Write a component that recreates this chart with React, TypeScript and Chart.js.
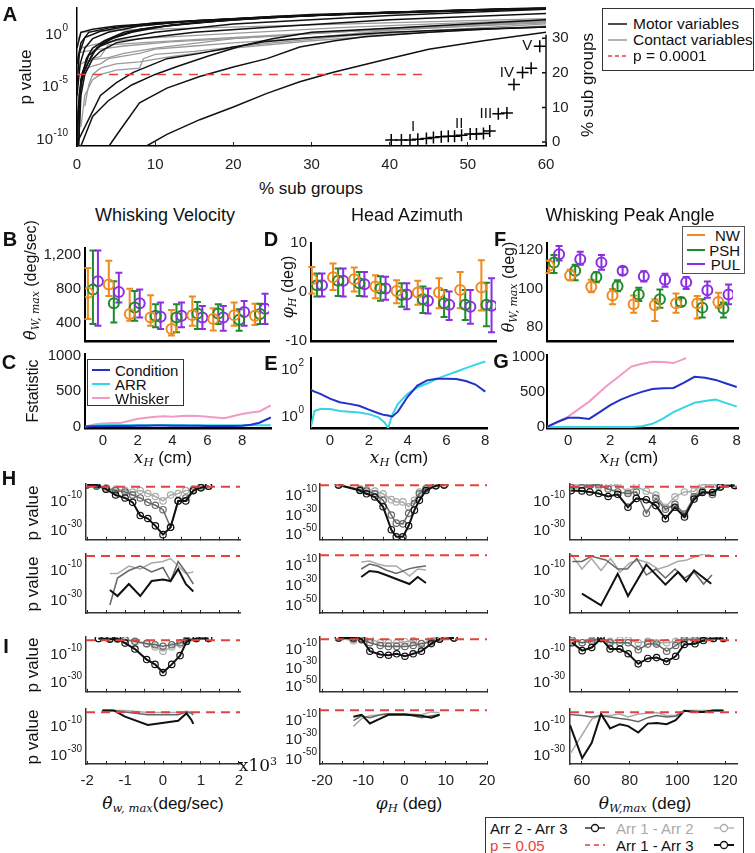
import React, { useEffect, useRef } from 'react';
import { Chart, registerables } from 'chart.js';

Chart.register(...registerables);

const SANS = "'Liberation Sans', Arial, Helvetica, sans-serif";
const SERIF = "'DejaVu Serif', 'Liberation Serif', 'Times New Roman', serif";

const C_NW = '#f0891e';
const C_PSH = '#1f8a2b';
const C_PUL = '#8c2fe3';
const C_COND = '#2231cc';
const C_ARR = '#33d6e6';
const C_WHISK = '#f29ac4';
const RED = '#e5413b';

// ---------------- Panel A ----------------
const A_MOTOR = [
  [[0, -10.8], [0.3, -6], [0.7, -4], [1.2, -2.5], [2, -1.5], [3.5, -0.8], [6, 0], [10, 0.5], [20, 1.2], [30, 1.6], [45, 2], [60, 2.3]],
  [[0, -9], [0.5, -5], [1, -3.5], [2, -2], [3, -1.2], [5, -0.4], [8, 0.3], [15, 0.9], [25, 1.4], [40, 1.9], [60, 2.3]],
  [[0.2, -10.8], [0.5, -4.5], [1.5, -2.8], [2.5, -1.5], [4, -0.7], [7, 0], [12, 0.7], [20, 1.2], [35, 1.8], [60, 2.35]],
  [[0, -6], [0.4, -3], [1, -1.5], [2, -0.6], [4, 0], [8, 0.6], [15, 1.1], [30, 1.7], [60, 2.35]],
  [[0, -5], [0.3, -2], [1, -0.5], [3, 0.1], [6, 0.5], [12, 0.9], [25, 1.5], [60, 2.3]],
  [[0, -3], [0.5, -1], [1.5, 0], [4, 0.4], [10, 0.9], [20, 1.3], [40, 1.9], [60, 2.3]],
  [[0, -1.5], [0.5, 0], [2, 0.3], [5, 0.6], [15, 1.1], [30, 1.6], [60, 2.3]],
  [[0, -10], [0.2, -7], [0.6, -4], [1.5, -2.2], [3, -1.3], [5, -0.7], [10, 0], [20, 0.8], [40, 1.6], [60, 2.2]],
  [[0, -10.5], [1, -9], [3, -6], [5, -4.8], [7.2, -3.8], [11.5, -2.5], [15.7, -2], [20, -1.4], [24, -0.9], [30, -0.5], [40, 0], [50, 0.3], [60, 0.5]],
  [[4.1, -10.8], [5.5, -9.3], [8, -6.7], [11.5, -5.3], [15.7, -4.2], [20, -3.3], [24.3, -2.5], [28.5, -1.4], [33, -0.8], [37, -0.4], [45, 0], [52, 0.3], [60, 0.5]],
  [[8.9, -10.8], [11.5, -9.7], [15.7, -8.3], [20, -7.1], [24.3, -5.8], [28.5, -4.7], [32.8, -3.8], [38.8, -2.7], [45, -1.6], [52, -0.8], [60, 0]],
  [[0.5, -10.8], [2, -8], [4, -6.5], [7, -5], [10, -4], [13, -3.2], [17, -2.2], [21, -1.3], [25, -0.6], [30, 0], [40, 0.4], [60, 1.2]],
  [[0.2, -10.8], [0.5, -6], [1, -4], [2, -2.5], [3, -1.8], [5, -1], [8, -0.6], [15, 0], [25, 0.5], [40, 1.2], [60, 1.8]],
];
const A_CONTACT = [
  [[0, -7], [0.5, -4.5], [1, -3.5], [2, -3.2], [3, -3], [4, -2.5], [8, -2], [10, -1.6], [15, -1.3], [20, -1], [30, -0.5], [40, 0.2], [60, 1.0]],
  [[0.5, -9], [1, -6], [2, -4.5], [3, -4], [4, -3.8], [5, -3.6], [8, -3.4], [8.5, -2.5], [10, -2.1], [15, -1.8], [25, -1], [35, -0.3], [60, 0.8]],
  [[0.3, -6], [1, -4], [2, -2.5], [3, -2.3], [4, -1.2], [8, -1], [15, -0.7], [25, -0.3], [40, 0.3], [60, 1.1]],
  [[0, -3], [0.5, -1.5], [2, -1.2], [5, -0.8], [10, -0.5], [20, -0.1], [35, 0.5], [60, 1.2]],
  [[0, -1], [0.5, 0], [2, 0.1], [5, 0.2], [15, 0.4], [30, 0.7], [60, 1.3]],
  [[0, -2], [1, -1.8], [3, -1.6], [6, -1.3], [12, -0.9], [22, -0.5], [35, 0.1], [60, 0.9]],
  [[1, -7], [1.5, -5], [2, -4], [3, -3.4], [5, -3], [8, -2.8], [12, -2.3], [20, -1.5], [30, -0.8], [45, 0], [60, 0.6]],
  [[0, -4], [0.5, -3], [1, -2.8], [2, -2.6], [4, -2.4], [6, -2], [10, -1.5], [20, -0.6], [40, 0.4], [60, 1.0]],
];
const A_THRESH_P = 0.0001;
const A_THRESH_X = [0, 45];
const A_CROSS_X = [40.2, 41.5, 42.6, 43.6, 44.7, 45.6, 46.6, 47.5, 48.3, 49.2, 50.3, 51.1, 52.0, 52.8, 53.9, 55.0, 55.9, 57.0, 58.1, 59.2];
const A_CROSS_Y = [0.6, 0.6, 0.6, 0.8, 1.0, 1.3, 1.5, 1.7, 1.7, 2.0, 2.3, 2.3, 2.5, 3.2, 8.2, 8.4, 16.6, 20.1, 21.3, 27.7];
const A_ROMAN_TXT = ['I', 'II', 'III', 'IV', 'V'];
const A_ROMAN_X = [43.0, 48.9, 52.3, 55.0, 57.6];
const A_ROMAN_Y = [4.3, 5.3, 8.2, 20.1, 27.7];
const A_RIGHT_AXIS_TOP = 31;

// ---------------- Panels B, D, F ----------------
const GROUPS = [0, 1, 2, 3, 4, 5, 6, 7, 8];
const OFF_NW = -0.24, OFF_PSH = 0, OFF_PUL = 0.24;

const B_NW_MEAN = [752, 849, 498, 459, 322, 486, 439, 486, 480];
const B_NW_LO = [439, 712, 420, 361, 244, 361, 303, 361, 370];
const B_NW_HI = [1044, 1130, 799, 720, 548, 705, 568, 635, 620];
const B_PSH_MEAN = [790, 626, 576, 478, 459, 505, 505, 431, 500];
const B_PSH_LO = [380, 400, 419, 342, 283, 322, 380, 302, 380];
const B_PSH_HI = [1250, 888, 770, 614, 614, 641, 614, 556, 620];
const B_PUL_MEAN = [888, 759, 626, 466, 478, 459, 459, 524, 560];
const B_PUL_LO = [360, 634, 459, 322, 342, 322, 302, 360, 380];
const B_PUL_HI = [1250, 986, 790, 634, 634, 595, 595, 653, 740];

const D_NW_MEAN = [2.6, 3.0, 2.6, 1.1, 0.2, -0.1, -0.1, 0.4, 0.9];
const D_NW_LO = [-0.3, 0.4, 0.1, -1.3, -2.3, -2.6, -3.3, -3.3, -3.8];
const D_NW_HI = [5.1, 5.8, 5.0, 3.4, 2.4, 2.3, 2.8, 4.1, 6.5];
const D_PSH_MEAN = [1.4, 2.3, 1.8, 0.7, -0.6, -1.5, -2.3, -2.6, -2.6];
const D_PSH_LO = [-0.9, -0.8, -0.8, -1.8, -3.0, -4.3, -5.1, -5.7, -7.0];
const D_PSH_HI = [3.8, 4.8, 4.1, 3.2, 1.8, 1.1, 0.4, 0.4, 1.9];
const D_PUL_MEAN = [1.4, 2.3, 1.6, 0.7, -0.5, -1.8, -2.6, -3.0, -2.8];
const D_PUL_LO = [-0.9, -0.9, -0.9, -1.6, -3.5, -4.4, -5.7, -6.5, -8.2];
const D_PUL_HI = [3.8, 4.8, 4.1, 3.1, 1.8, 0.7, 0.1, 0.4, 2.8];

const F_NW_MEAN = [111.8, 106.7, 100.9, 96.4, 91.8, 91.3, 92.3, 92.3, 93.0];
const F_NW_LO = [108.1, 104.3, 98.1, 91.8, 87.5, 83.2, 87.5, 84.5, 90.1];
const F_NW_HI = [114.5, 109.7, 104.6, 99.8, 96.4, 94.4, 97.4, 96.1, 97.8];
const F_PSH_MEAN = [113.5, 109.2, 106.0, 101.2, 96.9, 94.4, 93.0, 90.1, 89.6];
const F_PSH_LO = [108.1, 104.3, 103.2, 98.6, 93.5, 90.1, 90.9, 85.0, 85.0];
const F_PSH_HI = [117.4, 112.3, 108.4, 104.3, 100.4, 99.5, 95.2, 94.4, 92.7];
const F_PUL_MEAN = [117.8, 115.2, 113.5, 109.2, 106.3, 104.6, 103.2, 99.1, 96.9];
const F_PUL_LO = [114.5, 112.3, 109.7, 107.2, 103.7, 100.9, 99.8, 95.2, 91.8];
const F_PUL_HI = [122.1, 119.1, 117.4, 111.1, 108.9, 107.7, 106.0, 103.7, 102.1];

// ---------------- Panels C, E, G ----------------
const C_X = [-1, -0.5, 0, 0.5, 1, 1.5, 2, 2.5, 3, 3.5, 4, 4.5, 5, 5.5, 6, 6.5, 7, 7.5, 8, 8.5, 9, 9.65];
const C_CONDITION = [0, 4, 6, 8, 9, 10, 12, 13, 14, 14, 13, 13, 12, 11, 10, 9, 8, 8, 12, 25, 55, 130];
const C_ARRV = [0, 15, 22, 24, 24, 24, 23, 22, 22, 22, 22, 21, 20, 20, 19, 19, 18, 18, 18, 18, 18, 20];
const C_WHISKER = [0, 30, 45, 50, 50, 80, 110, 125, 140, 145, 140, 150, 155, 150, 140, 130, 120, 150, 180, 200, 215, 300];

const E_X = [-1, -0.8, -0.5, 0, 0.5, 1, 1.5, 2, 2.5, 2.8, 3, 3.2, 3.5, 4, 4.5, 5, 5.5, 6, 6.5, 7, 7.5, 8];
const E_CONDITION = [12, 10, 8, 5, 3.5, 3, 2.5, 1.7, 1.2, 1.0, 0.95, 0.85, 1.4, 6, 18, 30, 35, 35, 34, 28, 20, 10];
const E_ARRV = [0.28, 1.5, 1.8, 1.8, 1.5, 1.4, 1.3, 1.1, 0.8, 0.5, 0.28, 1.0, 3, 8, 15, 22, 35, 50, 70, 100, 140, 190];

const G_X = [-1, -0.5, 0, 0.5, 1, 1.5, 2, 2.5, 3, 3.5, 4, 4.5, 5, 5.5, 6, 6.5, 7, 7.5, 8];
const G_CONDITION = [0, 70, 130, 130, 115, 210, 310, 390, 450, 500, 540, 550, 555, 630, 715, 700, 670, 620, 570];
const G_ARRV = [0, 0, 0, 0, 0, 0, 0, 0, 0, 10, 45, 120, 210, 280, 345, 370, 390, 340, 290];
const G_WHISKER_X = [-1, 0, 1, 1.8, 2.5, 3, 3.5, 4, 4.5, 5, 5.6];
const G_WHISKER = [0, 147, 361, 575, 740, 860, 900, 930, 925, 910, 980];

// ---------------- Panels H, I (log10 p values) ----------------
const P_THRESH = 0.05;

const H1_VEL_X = [-2.0, -1.75, -1.5, -1.25, -1.0, -0.8, -0.6, -0.4, -0.2, 0.0, 0.2, 0.4, 0.6, 0.8, 1.0, 1.2];
const H1_VEL_A13 = [0, 0, -3, -7, -9, -12, -21, -23, -28, -34, -29, -11, -11, -4, -2, -1];
const H1_VEL_A23 = [0, -1, -3, -4, -5, -7, -9, -12, -14, -17, -29, -11, -9, -4, -2, -1];
const H1_VEL_A12 = [0, -1, -2, -3, -4, -5, -4, -6, -8, -11, -7, -6, -4, -3, -1, -1];

const H2_VEL_X = [-1.4, -1.2, -0.9, -0.6, -0.3, 0.0, 0.2, 0.4, 0.6, 0.8];
const H2_VEL_A13 = [-24, -28, -20, -28, -18, -17, -18, -10, -20, -25];
const H2_VEL_A23 = [-34, -16, -11, -8, -12, -9, -18, -5, -12, -20];
const H2_VEL_A12 = [-13, -13, -8, -10, -6, -5, -3, -8, -13, -12];

const I1_VEL_X = [-1.7, -1.4, -1.2, -1.0, -0.74, -0.43, -0.21, 0.0, 0.23, 0.45, 0.62, 0.88, 1.2];
const I1_VEL_A13 = [0, -0.5, 0, -3.3, -7.5, -14.9, -18.3, -24, -18.3, -12.1, -2.2, 0, 0];
const I1_VEL_A23 = [0, 0, -0.5, -1, -2, -3.5, -4.5, -5.5, -4.5, -3, -1, 0, 0];
const I1_VEL_A12 = [0, 0, 0, -0.5, -2.5, -4, -6, -9, -6, -4, -1.5, 0, 0];

const I2_VEL_X = [-1.6, -1.3, -1.0, -0.4, 0.4, 0.62, 0.75, 0.8];
const I2_VEL_A13 = [0, 0, -4.3, -10, -7.1, -2, -6.6, -9.3];
const I2_VEL_A23 = [0, 0, -1, -3, -3, -1, -2, -3];
const I2_VEL_A12 = [0, 0, 0, -1.5, -1.5, -0.5, -1, -2];

const H1_AZ_X = [-16, -10.8, -9.2, -7.2, -5.2, -3.2, -2.0, -0.4, 1.0, 2.4, 3.6, 5.2, 7.6, 9.6];
const H1_AZ_A13 = [-1, -6.7, -10, -13.3, -23.3, -46.7, -54, -54, -42.7, -26.7, -16.7, -6.7, -1.7, -1];
const H1_AZ_A23 = [-1, -6, -7.3, -10, -16.7, -31.7, -40, -40.7, -30, -20, -10, -5, -1.7, -1];
const H1_AZ_A12 = [-1, -5, -6, -7.3, -10, -16, -18.3, -18.3, -23.3, -16.7, -8.3, -4.3, -1, -1];

const H2_AZ_X = [-10.5, -8.5, -6.5, -4.5, -2, 1.2, 3.2, 5.2];
const H2_AZ_A13 = [-23, -17, -18, -21, -25, -30, -23, -29];
const H2_AZ_A23 = [-15, -10, -12, -16, -19.5, -14.6, -13, -12];
const H2_AZ_A12 = [-8, -7, -10, -12, -12, -22, -15, -16];

const I1_AZ_X = [-16, -12.4, -10.4, -8.4, -5.9, -3.9, -1.9, 0.1, 2.1, 4.1, 6.5, 8.5, 12];
const I1_AZ_A13 = [0, 0, -1, -14, -17.5, -18.3, -16.8, -19.4, -16.8, -14, -6, -1.4, 0];
const I1_AZ_A23 = [0, -1, -2, -5, -8, -9, -9, -9, -8, -6, -4, -1, 0];
const I1_AZ_A12 = [0, -3, 0, -1, -5, -5, -5, -4, -3, -8.6, 0, 0, 0];

const I2_AZ_X = [-12.4, -10.4, -8.4, -5.9, -3.9, 0.1, 4.1, 6.5, 8.5];
const I2_AZ_A13 = [-8, -6, -15, -10, -6, -6, -7, -9, -6];
const I2_AZ_A23 = [-12, -7, -9, -6, -5, -5, -9, -7, -6];
const I2_AZ_A12 = [-18, -10, -7, -6, -5, -5, -6, -3, -4];

const H1_ANG_X = [55.5, 60, 63.3, 67, 71, 75, 79.3, 82.8, 87, 91, 95, 99, 103, 107, 110.5, 114.7, 118, 124];
const H1_ANG_A13 = [-4, -4.2, -4.9, -6, -8, -6.5, -15.3, -9.3, -10.2, -14.2, -23.1, -15.3, -22, -9.8, -5.3, -5.3, -1.5, -0.5];
const H1_ANG_A23 = [-2, -2, -0.5, 0, -2.9, -4.9, -6, -4.9, -19.4, -9.3, -16.7, -13.3, -20, -8.2, -4.4, -6.7, -1.5, -0.5];
const H1_ANG_A12 = [0, -0.5, 0, -1.2, -1.2, 0, -4.9, -1.2, -4.4, -7.1, -15.3, -8.2, -4.9, -4.4, 0, 0, 0, 0];

const H2_ANG_X13 = [60, 68, 75, 79.3, 87, 95, 100.3, 103.7, 107, 114.2];
const H2_ANG_A13 = [-26.4, -34.2, -13.1, -28, -7.1, -20.4, -12, -18.2, -10.9, -19.8];
const H2_ANG_X23 = [56, 60, 64, 70, 75, 79, 83, 87, 91, 95, 99, 103, 107, 111, 114.5];
const H2_ANG_A23 = [-5, -5, -1.5, -4, -10, -10, -3, -14, -10, -16, -10, -16, -12, -20, -14];
const H2_ANG_X12 = [55.5, 60, 64, 68, 72, 76, 80, 84, 88, 92, 96, 100, 104, 107, 111, 114];
const H2_ANG_A12 = [0, -10, -3, -11, -3, -12, -6, -4, -6, -10, -8, -5, -4, -2, 0, 0];

const I1_ANG_X = [55.9, 60.1, 64.1, 68, 71.8, 75.9, 79.4, 83.6, 87.6, 91.3, 95.5, 99.3, 102.9, 107.4, 110.9, 115.1, 119.3];
const I1_ANG_A13 = [-3.1, -8.6, -6.4, 0, -7.5, -7.5, -10.8, -17.9, -14.1, -13.5, -16.3, -12.6, -4.2, -3.8, -1.5, 0, 0];
const I1_ANG_A23 = [-1, -3, -2, 0, -3, -3, -3, -8, -4, -4, -9, -5, -1, -1, 0, 0, 0];
const I1_ANG_A12 = [-2, -3, -1, 0, -2, -1, -1, -3, -2, -3, -3, -2, 0, 0, 0, 0, 0];

const I2_ANG_X = [55, 60.1, 64.1, 68, 71.8, 75.9, 79.4, 83.6, 87.6, 91.3, 95.5, 99.3, 102.9, 107.4, 110.9, 115.1, 119.3];
const I2_ANG_A13 = [-10.2, -33, -22.4, -2.4, -12.4, -9.5, -10.8, -15.3, -9.1, -8.6, -9.5, -6.8, -0.2, -1, -1, 0, 0];
const I2_ANG_A23 = [-2.8, -3.5, -4.5, -3.5, -4.5, -5.6, -6.3, -7.8, -5, -3.5, -4.5, -4, -0.6, -0.5, -1, 0, 0];
const I2_ANG_A12 = [-30.2, -16.8, -6, -3.5, -3.5, -2.4, -4.5, -2.4, -2, -1.5, -3.5, -3.5, 0, 0, 0, 0, 0];

// ---------------- layout ----------------
type Rect = { l: number; t: number; r: number; b: number };
type Pad = { L: number; T: number; R: number; B: number };

const COLS = [
  { l: 86, r: 240, min: -2.03, max: 2.03, ticks: [-2, -1.5, -1, -0.5, 0, 0.5, 1, 1.5, 2], every: 1, L: 52, ypad: 4, pTicks: [1e-10, 1e-30] },
  { l: 320, r: 487, min: -20.5, max: 20, ticks: [-20, -15, -10, -5, 0, 5, 10, 15, 20], every: 10, L: 48, ypad: 3, pTicks: [1e-10, 1e-30, 1e-50] },
  { l: 570, r: 737, min: 55, max: 125, ticks: [60, 80, 100, 120], every: 20, L: 48, ypad: 5, pTicks: [1e-10, 1e-30] },
];
const ROWS = [
  { t: 484, b: 541, rng: [[-37.5, 0.5], [-57, 0], [-37.5, 0.5]] },
  { t: 554, b: 613, rng: [[-39.3, 0], [-59, 0], [-39.3, 0]] },
  { t: 637, b: 693, rng: [[-37.6, 1], [-57, 1], [-37.6, 1]] },
  { t: 709, b: 764, rng: [[-37, 1], [-57, 0], [-37, 1]] },
];

const SUBPLOTS = [
  { row: 0, col: 0, marks: true, s13: [H1_VEL_X, H1_VEL_A13], s23: [H1_VEL_X, H1_VEL_A23], s12: [H1_VEL_X, H1_VEL_A12] },
  { row: 1, col: 0, marks: false, s13: [H2_VEL_X, H2_VEL_A13], s23: [H2_VEL_X, H2_VEL_A23], s12: [H2_VEL_X, H2_VEL_A12] },
  { row: 2, col: 0, marks: true, s13: [I1_VEL_X, I1_VEL_A13], s23: [I1_VEL_X, I1_VEL_A23], s12: [I1_VEL_X, I1_VEL_A12] },
  { row: 3, col: 0, marks: false, s13: [I2_VEL_X, I2_VEL_A13], s23: [I2_VEL_X, I2_VEL_A23], s12: [I2_VEL_X, I2_VEL_A12] },
  { row: 0, col: 1, marks: true, s13: [H1_AZ_X, H1_AZ_A13], s23: [H1_AZ_X, H1_AZ_A23], s12: [H1_AZ_X, H1_AZ_A12] },
  { row: 1, col: 1, marks: false, s13: [H2_AZ_X, H2_AZ_A13], s23: [H2_AZ_X, H2_AZ_A23], s12: [H2_AZ_X, H2_AZ_A12] },
  { row: 2, col: 1, marks: true, s13: [I1_AZ_X, I1_AZ_A13], s23: [I1_AZ_X, I1_AZ_A23], s12: [I1_AZ_X, I1_AZ_A12] },
  { row: 3, col: 1, marks: false, s13: [I2_AZ_X, I2_AZ_A13], s23: [I2_AZ_X, I2_AZ_A23], s12: [I2_AZ_X, I2_AZ_A12] },
  { row: 0, col: 2, marks: true, s13: [H1_ANG_X, H1_ANG_A13], s23: [H1_ANG_X, H1_ANG_A23], s12: [H1_ANG_X, H1_ANG_A12] },
  { row: 1, col: 2, marks: false, s13: [H2_ANG_X13, H2_ANG_A13], s23: [H2_ANG_X23, H2_ANG_A23], s12: [H2_ANG_X12, H2_ANG_A12] },
  { row: 2, col: 2, marks: true, s13: [I1_ANG_X, I1_ANG_A13], s23: [I1_ANG_X, I1_ANG_A23], s12: [I1_ANG_X, I1_ANG_A12] },
  { row: 3, col: 2, marks: false, s13: [I2_ANG_X, I2_ANG_A13], s23: [I2_ANG_X, I2_ANG_A23], s12: [I2_ANG_X, I2_ANG_A12] },
];

// ---------------- helpers ----------------
const zip = (xs: number[], ys: number[]) => xs.map((x, i) => ({ x, y: ys[i] }));
const zipExp = (xs: number[], es: number[]) => xs.map((x, i) => ({ x, y: Math.pow(10, es[i]) }));

function canvasRect(p: Rect, pad: Pad) {
  return { x: p.l - pad.L, y: p.t - pad.T, w: p.r - p.l + pad.L + pad.R, h: p.b - p.t + pad.T + pad.B };
}

function axis(o: any) {
  const vertical = o.pos === 'left' || o.pos === 'right';
  const tl = o.inTicks || 0;
  const cfg: any = {
    type: o.type || 'linear',
    position: o.pos,
    min: o.min,
    max: o.max,
    afterFit: (s: any) => {
      if (vertical) { s.width = o.size; s.paddingTop = 0; s.paddingBottom = 0; }
      else { s.height = o.size; s.paddingLeft = 0; s.paddingRight = 0; }
    },
    grid: tl
      ? { display: true, drawOnChartArea: false, drawTicks: true, tickLength: -tl, color: o.tickColor || '#222', lineWidth: 1 }
      : { display: false, drawTicks: false },
    border: { display: o.border !== false, color: o.borderColor || '#000', width: o.borderWidth ?? 2 },
    ticks: {
      display: o.labels !== false,
      padding: (o.pad ?? 4) + tl,
      color: '#222',
      font: { family: SANS, size: o.fontSize || 15 },
      maxRotation: 0,
      minRotation: 0,
      autoSkip: false,
      callback: o.fmt || ((v: any) => String(v)),
    },
  };
  if (o.ticks) cfg.afterBuildTicks = (s: any) => { s.ticks = o.ticks.map((v: number) => ({ value: v })); };
  return cfg;
}

function baseOptions(pad: Pad, scales: any, rightAxisW = 0, pluginOpts: any = {}) {
  return {
    responsive: false,
    animation: false,
    devicePixelRatio: 1,
    events: [],
    layout: { padding: { left: 0, top: pad.T, right: pad.R - rightAxisW, bottom: 0 } },
    plugins: { legend: { display: false }, tooltip: { enabled: false }, title: { display: false }, ...pluginOpts },
    scales,
  };
}

const line = (pts: any[], color: string, width: number, extra: any = {}) => ({
  data: pts,
  showLine: true,
  borderColor: color,
  backgroundColor: color,
  borderWidth: width,
  pointRadius: 0,
  fill: false,
  tension: 0,
  ...extra,
});

const errSet = (off: number, mean: number[], lo: number[], hi: number[], color: string) => ({
  data: GROUPS.map((g, i) => ({ x: g + off, y: mean[i] })),
  errLo: lo,
  errHi: hi,
  showLine: false,
  pointRadius: 5,
  pointBorderWidth: 2,
  borderColor: color,
  pointBorderColor: color,
  pointBackgroundColor: 'rgba(0,0,0,0)',
  backgroundColor: 'rgba(0,0,0,0)',
});

// ---------------- plugins ----------------
const errBars = {
  id: 'errBars',
  beforeDatasetsDraw(chart: any) {
    const ctx = chart.ctx;
    const xs = chart.scales.x, ys = chart.scales.y;
    chart.data.datasets.forEach((ds: any) => {
      if (!ds.errLo) return;
      ctx.save();
      ctx.strokeStyle = ds.borderColor;
      ctx.lineWidth = 2;
      ds.data.forEach((p: any, i: number) => {
        const x = xs.getPixelForValue(p.x);
        const y1 = ys.getPixelForValue(ds.errLo[i]);
        const y2 = ys.getPixelForValue(ds.errHi[i]);
        ctx.beginPath();
        ctx.moveTo(x, y1); ctx.lineTo(x, y2);
        ctx.moveTo(x - 3.5, y1); ctx.lineTo(x + 3.5, y1);
        ctx.moveTo(x - 3.5, y2); ctx.lineTo(x + 3.5, y2);
        ctx.stroke();
      });
      ctx.restore();
    });
  },
};

const pointText = {
  id: 'pointText',
  afterDatasetsDraw(chart: any) {
    const ctx = chart.ctx;
    chart.data.datasets.forEach((ds: any, di: number) => {
      if (!ds.pointText) return;
      const meta = chart.getDatasetMeta(di);
      ctx.save();
      ctx.font = `15px ${SANS}`;
      ctx.fillStyle = '#111';
      ctx.textAlign = 'center';
      ctx.textBaseline = 'middle';
      meta.data.forEach((el: any, i: number) => ctx.fillText(ds.pointText[i], el.x, el.y));
      ctx.restore();
    });
  },
};

const partialRightAxis = {
  id: 'partialRightAxis',
  afterDatasetsDraw(chart: any) {
    const s = chart.scales.y2;
    if (!s) return;
    const ctx = chart.ctx;
    const x = chart.chartArea.right;
    ctx.save();
    ctx.strokeStyle = '#111';
    ctx.lineWidth = 1.5;
    ctx.beginPath();
    ctx.moveTo(x, chart.chartArea.bottom);
    ctx.lineTo(x, s.getPixelForValue(A_RIGHT_AXIS_TOP));
    s.ticks.forEach((t: any) => {
      const y = s.getPixelForValue(t.value);
      ctx.moveTo(x, y);
      ctx.lineTo(x - 4, y);
    });
    ctx.stroke();
    ctx.restore();
  },
};

// draws "10" with a raised exponent for the ticks of a log y axis
const powLabels = {
  id: 'powLabels',
  afterDraw(chart: any, _args: any, opts: any) {
    const s = chart.scales.y;
    if (!s || s.type !== 'logarithmic') return;
    const pad = opts && opts.pad != null ? opts.pad : 4;
    const size = opts && opts.size ? opts.size : 15;
    const small = Math.round(size * 0.68);
    const ctx = chart.ctx;
    ctx.save();
    ctx.fillStyle = '#222';
    ctx.textAlign = 'left';
    ctx.textBaseline = 'alphabetic';
    s.ticks.forEach((t: any) => {
      const y = s.getPixelForValue(t.value);
      const e = String(Math.round(Math.log10(t.value)));
      ctx.font = `${small}px ${SANS}`;
      const we = ctx.measureText(e).width;
      ctx.font = `${size}px ${SANS}`;
      const wb = ctx.measureText('10').width;
      const xr = s.right - pad;
      ctx.fillText('10', xr - we - wb - 0.5, y + size * 0.42);
      ctx.font = `${small}px ${SANS}`;
      ctx.fillText(e, xr - we, y - size * 0.12);
    });
    ctx.restore();
  },
};

// ---------------- chart configs ----------------
const A_PLOT: Rect = { l: 77, t: 6, r: 546, b: 146 };
const A_PAD: Pad = { L: 77, T: 6, R: 34, B: 30 };
function makeA(pad: Pad) {
  const datasets: any[] = [
    { data: zip(A_CROSS_X, A_CROSS_Y), yAxisID: 'y2', showLine: false, pointStyle: 'cross', pointRadius: 6, borderColor: '#000', pointBorderColor: '#000', pointBorderWidth: 1.5, borderWidth: 1.5 },
    { data: zip(A_ROMAN_X, A_ROMAN_Y), yAxisID: 'y2', showLine: false, pointRadius: 0, pointText: A_ROMAN_TXT },
    line(A_THRESH_X.map((x) => ({ x, y: A_THRESH_P })), RED, 1.5, { borderDash: [9, 7] }),
    ...A_MOTOR.map((c) => line(c.map(([x, e]) => ({ x, y: Math.pow(10, e) })), '#111', 1.5)),
    ...A_CONTACT.map((c) => line(c.map(([x, e]) => ({ x, y: Math.pow(10, e) })), '#9a9a9a', 1.3)),
  ];
  return {
    type: 'scatter',
    data: { datasets },
    options: baseOptions(pad, {
      x: axis({ pos: 'bottom', min: 0, max: 60, ticks: [0, 10, 20, 30, 40, 50, 60], size: pad.B, pad: 10, inTicks: 4, borderWidth: 1.5 }),
      y: axis({ type: 'logarithmic', pos: 'left', min: Math.pow(10, -10.8), max: Math.pow(10, 2.36), ticks: [1e-10, 1e-5, 1], size: pad.L, labels: false, borderWidth: 1.5 }),
      y2: axis({ pos: 'right', min: -1.14, max: 38.86, ticks: [0, 10, 20, 30], size: 34, pad: 6, border: false }),
    }, 34, { powLabels: { pad: 9, size: 15 } }),
    plugins: [pointText, partialRightAxis, powLabels],
  };
}

function makeErrPanel(xmin: number, xmax: number, ymin: number, ymax: number, yticks: number[], fmt: any, sets: any[]) {
  return (pad: Pad) => ({
    type: 'scatter',
    data: { datasets: sets },
    options: baseOptions(pad, {
      x: axis({ pos: 'bottom', min: xmin, max: xmax, size: pad.B, labels: false, borderWidth: 2.5 }),
      y: axis({ pos: 'left', min: ymin, max: ymax, ticks: yticks, size: pad.L, pad: 4, fmt, borderWidth: 2 }),
    }),
    plugins: [errBars],
  });
}

const B_PLOT: Rect = { l: 85, t: 248, r: 270, b: 342 };
const B_PAD: Pad = { L: 85, T: 12, R: 6, B: 6 };
const makeB = makeErrPanel(-0.38, 8.43, 180, 1280, [400, 800, 1200], (v: any) => Number(v).toLocaleString('en-US'), [
  errSet(OFF_NW, B_NW_MEAN, B_NW_LO, B_NW_HI, C_NW),
  errSet(OFF_PSH, B_PSH_MEAN, B_PSH_LO, B_PSH_HI, C_PSH),
  errSet(OFF_PUL, B_PUL_MEAN, B_PUL_LO, B_PUL_HI, C_PUL),
]);

const D_PLOT: Rect = { l: 311, t: 243, r: 497, b: 342 };
const D_PAD: Pad = { L: 56, T: 12, R: 6, B: 6 };
const makeD = makeErrPanel(-0.28, 8.45, -10, 10, [-10, 0, 10], null, [
  errSet(OFF_NW, D_NW_MEAN, D_NW_LO, D_NW_HI, C_NW),
  errSet(OFF_PSH, D_PSH_MEAN, D_PSH_LO, D_PSH_HI, C_PSH),
  errSet(OFF_PUL, D_PUL_MEAN, D_PUL_LO, D_PUL_HI, C_PUL),
]);

const F_PLOT: Rect = { l: 547, t: 243, r: 734, b: 342 };
const F_PAD: Pad = { L: 46, T: 12, R: 6, B: 6 };
const makeF = makeErrPanel(-0.33, 8.45, 72.8, 123.6, [80, 100, 120], null, [
  errSet(OFF_NW, F_NW_MEAN, F_NW_LO, F_NW_HI, C_NW),
  errSet(OFF_PSH, F_PSH_MEAN, F_PSH_LO, F_PSH_HI, C_PSH),
  errSet(OFF_PUL, F_PUL_MEAN, F_PUL_LO, F_PUL_HI, C_PUL),
]);

function makeStatPanel(xmin: number, xmax: number, yAxisCfg: any, sets: any[], powPad = 0) {
  return (pad: Pad) => ({
    type: 'scatter',
    data: { datasets: sets },
    options: baseOptions(pad, {
      x: axis({ pos: 'bottom', min: xmin, max: xmax, ticks: [0, 2, 4, 6, 8], size: pad.B, pad: 4, borderWidth: 2.5 }),
      y: axis({ pos: 'left', size: pad.L, pad: 4, borderWidth: 2, ...yAxisCfg }),
    }, 0, { powLabels: { pad: powPad, size: 15 } }),
    plugins: [powLabels],
  });
}

const C_PLOT: Rect = { l: 85, t: 354, r: 271, b: 428 };
const C_PAD: Pad = { L: 85, T: 8, R: 8, B: 24 };
const makeC = makeStatPanel(-1.03, 9.66, { min: -20, max: 1030, ticks: [0, 500, 1000] }, [
  line(zip(C_X, C_CONDITION), C_COND, 2),
  line(zip(C_X, C_ARRV), C_ARR, 2),
  line(zip(C_X, C_WHISKER), C_WHISK, 2),
]);

const E_PLOT: Rect = { l: 311, t: 358, r: 487, b: 428 };
const E_PAD: Pad = { L: 56, T: 8, R: 10, B: 24 };
const makeE = makeStatPanel(-0.98, 8.09, { type: 'logarithmic', min: Math.pow(10, -0.55), max: Math.pow(10, 2.43), ticks: [1, 100], labels: false }, [
  line(zip(E_X, E_CONDITION), C_COND, 2),
  line(zip(E_X, E_ARRV), C_ARR, 2),
], 7);

const G_PLOT: Rect = { l: 547, t: 355, r: 738, b: 428 };
const G_PAD: Pad = { L: 46, T: 8, R: 10, B: 24 };
const makeG = makeStatPanel(-1.0, 8.06, { min: -15, max: 1025, ticks: [0, 500, 1000], pad: 2 }, [
  line(zip(G_X, G_CONDITION), C_COND, 2),
  line(zip(G_X, G_ARRV), C_ARR, 2),
  line(zip(G_WHISKER_X, G_WHISKER), C_WHISK, 2),
]);

function subplotGeom(sp: any) {
  const col = COLS[sp.col], row = ROWS[sp.row];
  const rect: Rect = { l: col.l, t: row.t, r: col.r, b: row.b };
  const pad: Pad = { L: col.L, T: 6, R: 10, B: sp.row === 3 ? 26 : 4 };
  return { rect, pad };
}

function makeSub(sp: any) {
  return (pad: Pad) => {
    const col = COLS[sp.col], row = ROWS[sp.row];
    const [lo, hi] = row.rng[sp.col];
    const bottom = sp.row === 3;
    const mk = (pair: any, color: string, w: number) =>
      line(zipExp(pair[0], pair[1]), color, w, sp.marks ? { pointRadius: 3.2, pointBorderWidth: 1.2, pointBorderColor: color, pointBackgroundColor: 'rgba(0,0,0,0)' } : {});
    return {
      type: 'scatter',
      data: {
        datasets: [
          line([col.min, col.max].map((x) => ({ x, y: P_THRESH })), RED, 2, { borderDash: [9, 6] }),
          mk(sp.s13, '#111', 2),
          mk(sp.s23, '#666', 1.5),
          mk(sp.s12, '#aaa', 1.5),
        ],
      },
      options: baseOptions(pad, {
        x: axis({
          pos: 'bottom', min: col.min, max: col.max, ticks: col.ticks, size: pad.B, pad: 8, inTicks: 3,
          labels: bottom, borderWidth: 1.5, borderColor: '#333',
          fmt: (v: any) => (Math.abs(Number(v) % col.every) < 1e-9 ? String(v) : ''),
        }),
        y: axis({
          type: 'logarithmic', pos: 'left', min: Math.pow(10, lo), max: Math.pow(10, hi), ticks: col.pTicks,
          size: pad.L, labels: false, borderWidth: 1.5, borderColor: '#333',
        }),
      }, 0, { powLabels: { pad: col.ypad, size: 15 } }),
      plugins: [powLabels],
    };
  };
}

// ---------------- components ----------------
function ChartBox({ rect, pad, make }: any) {
  const ref = useRef<HTMLCanvasElement>(null);
  const c = canvasRect(rect, pad);
  useEffect(() => {
    const chart = new Chart(ref.current as any, make(pad) as any);
    return () => chart.destroy();
  }, []);
  return <canvas ref={ref} width={c.w} height={c.h} style={{ position: 'absolute', left: c.x, top: c.y, width: c.w, height: c.h }} />;
}

function T({ x, y, children, size = 17, rot = false, weight = 400, color = '#111', family = SANS, align = 'center' }: any) {
  const tx = align === 'center' ? '-50%' : align === 'right' ? '-100%' : '0';
  return (
    <div
      style={{
        position: 'absolute', left: x, top: y,
        transform: `translate(${tx},-50%)${rot ? ' rotate(-90deg)' : ''}`,
        fontSize: size, fontFamily: family, fontWeight: weight, color, whiteSpace: 'nowrap', lineHeight: 1,
      }}
    >
      {children}
    </div>
  );
}
const M = ({ children }: any) => <span style={{ fontFamily: SERIF, fontStyle: 'italic' }}>{children}</span>;
const Sub = ({ children }: any) => <sub style={{ fontSize: '0.68em', verticalAlign: '-0.3em', lineHeight: 0 }}>{children}</sub>;

function Sample({ x, y, w, color, width, dash, marker }: any) {
  return (
    <svg style={{ position: 'absolute', left: x, top: y - 7 }} width={w} height={14}>
      <line x1={0} y1={7} x2={w} y2={7} stroke={color} strokeWidth={width} strokeDasharray={dash} />
      {marker && <circle cx={w / 2} cy={7} r={3.5} fill="#fff" stroke={color} strokeWidth={1.3} />}
    </svg>
  );
}

const LEG_A = [
  { t: 'Motor variables', c: '#111', w: 1.5, d: undefined },
  { t: 'Contact variables', c: '#999', w: 1.5, d: undefined },
  { t: 'p = 0.0001', c: RED, w: 1.5, d: '4 3' },
];
const LEG_C = [
  { t: 'Condition', c: C_COND },
  { t: 'ARR', c: C_ARR },
  { t: 'Whisker', c: C_WHISK },
];
const LEG_F = [
  { t: 'NW', c: C_NW },
  { t: 'PSH', c: C_PSH },
  { t: 'PUL', c: C_PUL },
];

export default function App() {
  return (
    <div style={{ position: 'absolute', left: 0, top: 0, width: 755, height: 853, background: '#fff', overflow: 'hidden', fontFamily: SANS }}>
      <ChartBox rect={A_PLOT} pad={A_PAD} make={makeA} />
      <ChartBox rect={B_PLOT} pad={B_PAD} make={makeB} />
      <ChartBox rect={D_PLOT} pad={D_PAD} make={makeD} />
      <ChartBox rect={F_PLOT} pad={F_PAD} make={makeF} />
      <ChartBox rect={C_PLOT} pad={C_PAD} make={makeC} />
      <ChartBox rect={E_PLOT} pad={E_PAD} make={makeE} />
      <ChartBox rect={G_PLOT} pad={G_PAD} make={makeG} />
      {SUBPLOTS.map((sp, i) => {
        const g = subplotGeom(sp);
        return <ChartBox key={i} rect={g.rect} pad={g.pad} make={makeSub(sp)} />;
      })}

      {/* panel letters */}
      <T x={10} y={14} size={20} weight={700}>A</T>
      <T x={10} y={239} size={20} weight={700}>B</T>
      <T x={9} y={362} size={20} weight={700}>C</T>
      <T x={271} y={239} size={20} weight={700}>D</T>
      <T x={271} y={363} size={20} weight={700}>E</T>
      <T x={500} y={239} size={20} weight={700}>F</T>
      <T x={501} y={361} size={20} weight={700}>G</T>
      <T x={9} y={478} size={20} weight={700}>H</T>
      <T x={6} y={646} size={20} weight={700}>I</T>

      {/* panel A titles */}
      <T x={25} y={77} rot size={17}>p value</T>
      <T x={311} y={188} size={17}>% sub groups</T>
      <T x={587} y={85} rot size={17}>% sub groups</T>

      {/* column titles */}
      <T x={165} y={215} size={18}>Whisking Velocity</T>
      <T x={407} y={215} size={18}>Head Azimuth</T>
      <T x={630} y={215} size={18}>Whisking Peak Angle</T>

      {/* y titles B D F C */}
      <T x={31} y={280} rot size={16}><M>{'\u03B8\u0307'}<Sub>W, max</Sub></M> (deg/sec)</T>
      <T x={288} y={287} rot size={16}><M>{'\u03C6'}<Sub>H</Sub></M> (deg)</T>
      <T x={509} y={287} rot size={16}><M>{'\u03B8'}<Sub>W, max</Sub></M> (deg)</T>
      <T x={33} y={391} rot size={16}>Fstatistic</T>

      {/* x_H titles */}
      <T x={163} y={457} size={17}><M>x<Sub>H</Sub></M> (cm)</T>
      <T x={399} y={457} size={17}><M>x<Sub>H</Sub></M> (cm)</T>
      <T x={629} y={457} size={17}><M>x<Sub>H</Sub></M> (cm)</T>

      {/* p value row titles */}
      <T x={32} y={513} rot size={17}>p value</T>
      <T x={32} y={584} rot size={17}>p value</T>
      <T x={32} y={665} rot size={17}>p value</T>
      <T x={32} y={737} rot size={17}>p value</T>

      {/* bottom x titles */}
      <T x={163} y={803} size={17}><M>{'\u03B8\u0307'}<Sub>w, max</Sub></M>(deg/sec)</T>
      <T x={409} y={803} size={17}><M>{'\u03C6'}<Sub>H</Sub></M> (deg)</T>
      <T x={645} y={803} size={17}><M>{'\u03B8'}<Sub>W,max</Sub></M> (deg)</T>
      <T x={258} y={765} size={17} family={SERIF}>x10<sup style={{ fontSize: '0.65em' }}>3</sup></T>

      {/* legend A */}
      <div style={{ position: 'absolute', left: 602, top: 8, width: 150, height: 61, border: '1px solid #333', background: '#fff' }} />
      {LEG_A.map((e, i) => (
        <React.Fragment key={i}>
          <Sample x={608} y={24 + i * 16} w={19} color={e.c} width={e.w} dash={e.d} />
          <T x={633} y={24 + i * 16} size={15.5} align="left">{e.t}</T>
        </React.Fragment>
      ))}

      {/* legend C */}
      <div style={{ position: 'absolute', left: 87, top: 359, width: 95, height: 45, border: '1px solid #333', background: '#fff' }} />
      {LEG_C.map((e, i) => (
        <React.Fragment key={i}>
          <Sample x={92} y={370 + i * 14} w={18} color={e.c} width={2} />
          <T x={115} y={370 + i * 14} size={15} align="left">{e.t}</T>
        </React.Fragment>
      ))}

      {/* legend F */}
      <div style={{ position: 'absolute', left: 682, top: 226, width: 61, height: 46, border: '1px solid #555', background: '#fff' }} />
      {LEG_F.map((e, i) => (
        <React.Fragment key={i}>
          <Sample x={687} y={235 + i * 14.5} w={18} color={e.c} width={2} />
          <T x={740} y={235 + i * 14.5} size={15} align="right">{e.t}</T>
        </React.Fragment>
      ))}

      {/* bottom legend */}
      <div style={{ position: 'absolute', left: 485, top: 817, width: 257, height: 36, border: '1px solid #333', background: '#fff' }} />
      <T x={490} y={828} size={15} align="left" color="#111">Arr 2 -  Arr 3</T>
      <Sample x={585} y={828} w={20} color="#111" width={1.3} marker />
      <T x={616} y={828} size={15} align="left" color="#aaa">Arr 1  -  Arr 2</T>
      <Sample x={714} y={828} w={20} color="#aaa" width={1.3} marker />
      <T x={490} y={845} size={15} align="left" color={RED}>p = 0.05</T>
      <Sample x={585} y={845} w={20} color={RED} width={1.5} dash="5 4" />
      <T x={616} y={845} size={15} align="left" color="#111">Arr 1  -  Arr 3</T>
      <Sample x={714} y={845} w={20} color="#111" width={2} marker />
    </div>
  );
}
